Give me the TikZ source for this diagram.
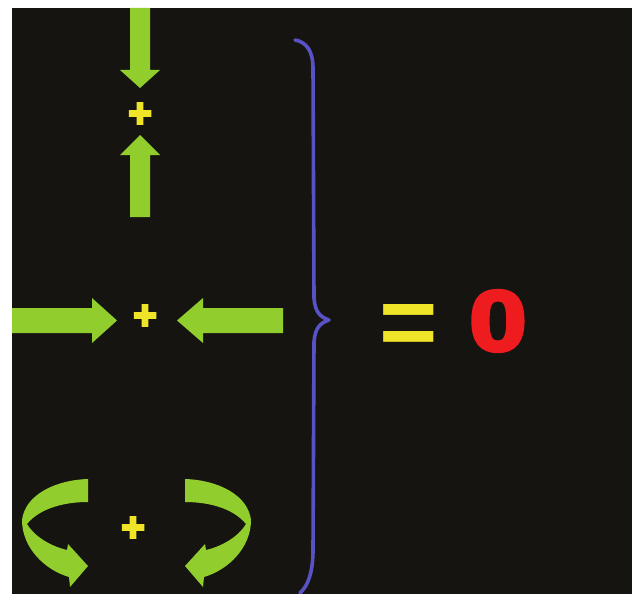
\documentclass[tikz,border=0pt]{standalone}
\usepackage{fontspec}
\newfontfamily\zerofont[FakeBold=4]{Liberation Sans Bold}
\newfontfamily\eqfont{Liberation Sans Bold}
\newfontfamily\plusfont[FakeBold=6]{Liberation Sans Bold}
\definecolor{bgblack}{RGB}{22,20,17}
\definecolor{limegreen}{RGB}{145,205,45}
\definecolor{plusyellow}{RGB}{240,228,40}
\definecolor{zerored}{RGB}{238,28,30}
\definecolor{braceblue}{RGB}{88,82,196}
\tikzset{
  arrowfill/.style={fill=limegreen},
  bracestyle/.style={draw=braceblue, line width=3.6pt, line cap=round, line join=round},
  plussign/.style={text=plusyellow, inner sep=0pt, font={\plusfont\fontsize{40}{44}\selectfont}},
  eqsign/.style={text=plusyellow, inner sep=0pt, font={\eqfont\fontsize{100}{110}\selectfont}},
  zerosign/.style={text=zerored, inner sep=0pt, font={\zerofont\fontsize{86}{96}\selectfont}}
}
\begin{document}
\begin{tikzpicture}[x=1pt,y=-1pt]
\fill[white] (0,0) rectangle (635,594);
\useasboundingbox (0,0) rectangle (635,594);
\fill[bgblack] (12,8) rectangle (632,594);

% top pair: down arrow and up arrow
\fill[arrowfill] (130,8) -- (150,8) -- (150,70) -- (160,70) -- (140,88) -- (120,70) -- (130,70) -- cycle;
\fill[arrowfill] (140,135) -- (160,155) -- (150,155) -- (150,217) -- (130,217) -- (130,155) -- (120,155) -- cycle;
\node[plussign] (plus1) at (140,115) {+};

% middle pair: right arrow and left arrow
\fill[arrowfill] (12,308) -- (92,308) -- (92,298) -- (117,320.5) -- (92,343) -- (92,333) -- (12,333) -- cycle;
\fill[arrowfill] (177,320.5) -- (203,298) -- (203,308) -- (283,308) -- (283,333) -- (203,333) -- (203,343) -- cycle;
\node[plussign] (plus2) at (145,317) {+};

% bottom pair: curved arrows
\fill[arrowfill] (88,479) .. controls (55,480) and (25,495) .. (22,520)
  .. controls (22,548) and (45,570) .. (69,577)
  -- (70,587) -- (88,566) -- (68,544) -- (67,550)
  .. controls (50,546) and (34,536) .. (27,524)
  .. controls (40,508) and (65,502) .. (88,502) -- cycle;
\begin{scope}[xshift=273pt, xscale=-1]
\fill[arrowfill] (88,479) .. controls (55,480) and (25,495) .. (22,520)
  .. controls (22,548) and (45,570) .. (69,577)
  -- (70,587) -- (88,566) -- (68,544) -- (67,550)
  .. controls (50,546) and (34,536) .. (27,524)
  .. controls (40,508) and (65,502) .. (88,502) -- cycle;
\end{scope}
\node[plussign] (plus3) at (133,529) {+};

% brace
\draw[bracestyle] (295,40) .. controls (307,42) and (313,52) .. (313,68)
  -- (314,298) .. controls (315,312) and (320,317) .. (329,320)
  .. controls (320,323) and (315,328) .. (314,342)
  -- (313,550) .. controls (313,572) and (308,586) .. (300,593);

% result
\node[eqsign] (eq) at (408.5,330) {=};
\node[zerosign] (zero) at (498,321) {\scalebox{1.2}[1]{0}};
\end{tikzpicture}
\end{document}
